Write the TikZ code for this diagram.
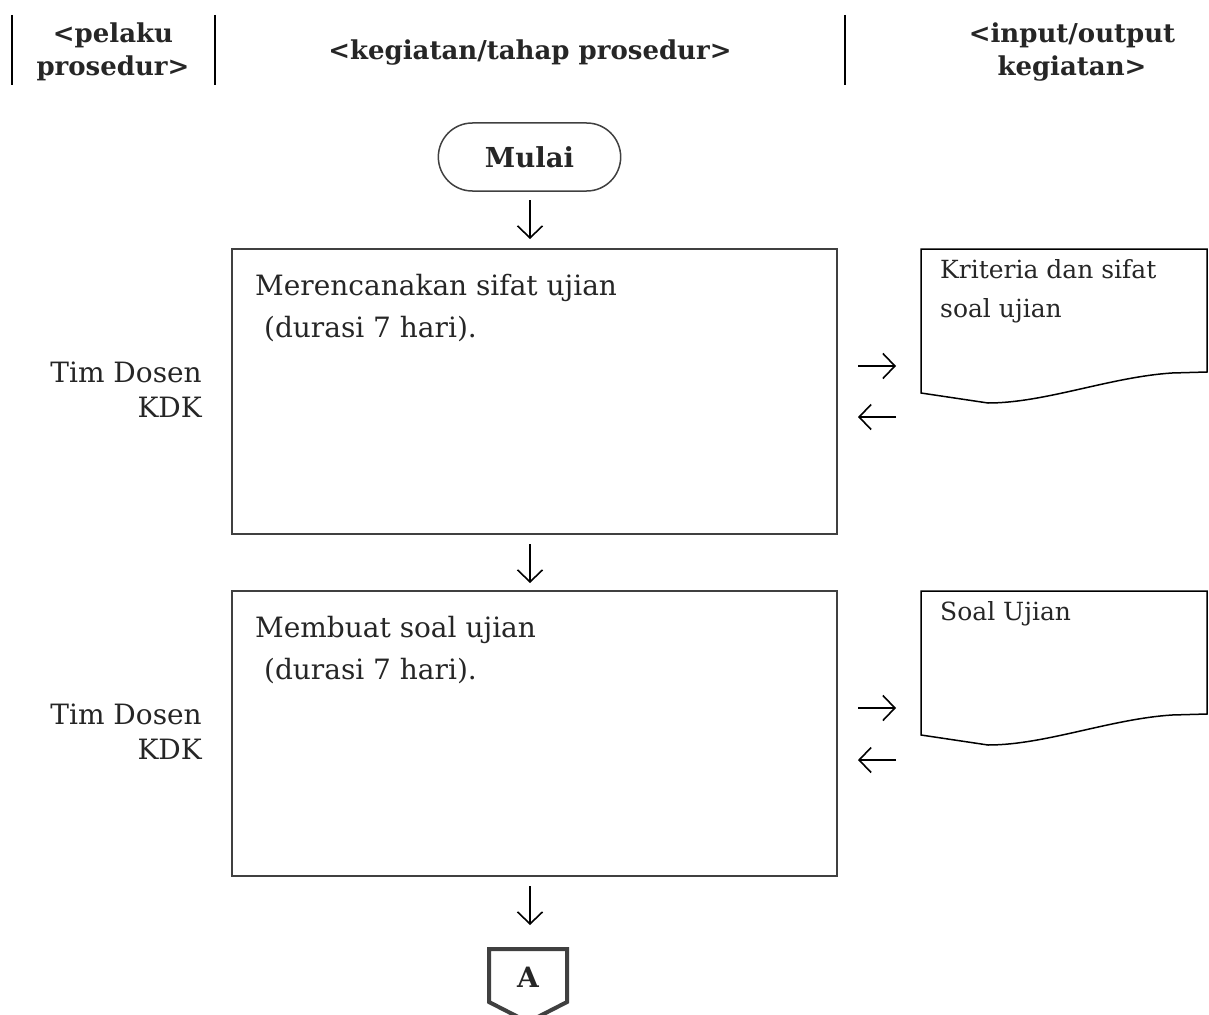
\documentclass[tikz,border=0pt]{standalone}
\usepackage{fontspec}
\setmainfont{DejaVu Serif}
\usetikzlibrary{arrows.meta,shapes.misc}
\definecolor{boxgray}{HTML}{404040}
\definecolor{txt}{HTML}{262626}
\tikzset{
  hdr/.style={font=\bfseries\fontsize{26}{33}\selectfont, align=center, text=txt},
  hline/.style={line width=1.4pt, draw=black},
  stepbox/.style={draw=boxgray, line width=2.2pt, rectangle, minimum width=605pt, minimum height=285pt, inner sep=0pt},
  boxtext/.style={font=\fontsize{28}{42}\selectfont, align=left, anchor=north west, text=txt, inner sep=0pt},
  actor/.style={font=\fontsize{28}{35}\selectfont, align=right, anchor=east, text=txt, inner sep=0pt},
  doctext/.style={font=\fontsize{25}{39}\selectfont, align=left, anchor=north west, text=txt, inner sep=0pt},
  docline/.style={draw=black, line width=1.5pt},
  flow/.style={line width=1.6pt, draw=black, -{Straight Barb[length=12pt,width=25pt,line width=1.6pt]}},
}
\begin{document}
\begin{tikzpicture}[x=1pt,y=-1pt]
\useasboundingbox (0,0) rectangle (1209,1014);
% header
\draw[hline] (12,15) -- (12,85);
\draw[hline] (215,15) -- (215,85);
\draw[hline] (845,15) -- (845,85);
\node[hdr] (h1) at (113,52) {<pelaku\\prosedur>};
\node[hdr] (h2) at (530,53) {<kegiatan/tahap prosedur>};
\node[hdr] (h3) at (1072,52) {<input/output\\kegiatan>};
% start
\node[draw=boxgray, line width=1.5pt, rounded rectangle, minimum width=189pt, minimum height=68pt, font=\bfseries\fontsize{27.5}{30}\selectfont, text=txt] (start) at (529.5,157) {Mulai};
% boxes
\node[stepbox] (b1) at (534.5,391.5) {};
\node[stepbox] (b2) at (534.5,733.5) {};
\node[boxtext] (t1) at (255,274) {Merencanakan sifat ujian\\\ (durasi 7 hari).};
\node[boxtext] (t2) at (255,616) {Membuat soal ujian\\\ (durasi 7 hari).};
\node[actor] (a1) at (202,390) {Tim Dosen\\KDK};
\node[actor] (a2) at (202,732) {Tim Dosen\\KDK};
% documents
\draw[docline] (921,249) -- (1207,249) -- (1207,372) -- (1172,373)
  .. controls (1110,377) and (1045,403) .. (988,403) -- (921,393) -- cycle;
\draw[docline] (921,591) -- (1207,591) -- (1207,714) -- (1172,715)
  .. controls (1110,719) and (1045,745) .. (988,745) -- (921,735) -- cycle;
\node[doctext] (dt1) at (940,259) {Kriteria dan sifat\\soal ujian};
\node[doctext] (dt2) at (940,601) {Soal Ujian};
% connector A
\draw[draw=boxgray, line width=4pt, line join=miter] (489,949) -- (567,949) -- (567,1002) -- (528,1022) -- (489,1002) -- cycle;
\node[font=\bfseries\fontsize{28}{30}\selectfont, text=txt] (A) at (528,977) {A};
% flow arrows
\coordinate (s1) at (530,200); \coordinate (e1) at (530,239);
\coordinate (s2) at (530,544); \coordinate (e2) at (530,583);
\coordinate (s3) at (530,886); \coordinate (e3) at (530,925);
\draw[flow] (s1) -- (e1);
\draw[flow] (s2) -- (e2);
\draw[flow] (s3) -- (e3);
\coordinate (r1a) at (858,366); \coordinate (r1b) at (896,366);
\coordinate (l1a) at (896,417); \coordinate (l1b) at (858,417);
\coordinate (r2a) at (858,708); \coordinate (r2b) at (896,708);
\coordinate (l2a) at (896,760); \coordinate (l2b) at (858,760);
\draw[flow] (r1a) -- (r1b);
\draw[flow] (l1a) -- (l1b);
\draw[flow] (r2a) -- (r2b);
\draw[flow] (l2a) -- (l2b);
\end{tikzpicture}
\end{document}
